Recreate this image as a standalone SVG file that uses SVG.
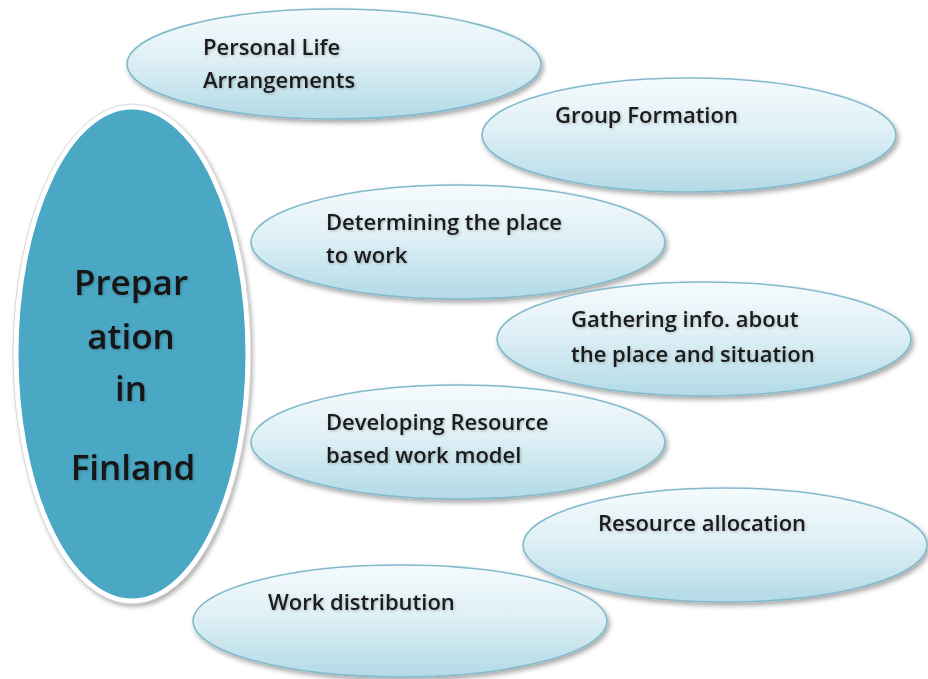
<svg xmlns="http://www.w3.org/2000/svg" width="928" height="679" viewBox="0 0 928 679">
  <defs>
    <linearGradient id="bubbleFill" x1="0" y1="0" x2="0" y2="1">
      <stop offset="0" stop-color="#f5fbfd"/>
      <stop offset="0.45" stop-color="#dff0f6"/>
      <stop offset="1" stop-color="#b2dae6"/>
    </linearGradient>
    <filter id="shade" x="-10%" y="-10%" width="125%" height="130%">
      <feGaussianBlur in="SourceAlpha" stdDeviation="2.5"/>
      <feOffset dx="2" dy="3" result="off"/>
      <feComponentTransfer><feFuncA type="linear" slope="0.35"/></feComponentTransfer>
      <feMerge><feMergeNode/><feMergeNode in="SourceGraphic"/></feMerge>
    </filter>
    <filter id="glow" x="-5%" y="-20%" width="110%" height="140%">
      <feGaussianBlur in="SourceAlpha" stdDeviation="1.6"/>
      <feComponentTransfer><feFuncA type="linear" slope="0.25"/></feComponentTransfer>
      <feOffset dx="1" dy="1"/>
      <feMerge><feMergeNode/><feMergeNode in="SourceGraphic"/></feMerge>
    </filter>
  </defs>
  <style>
    .bubble { fill: url(#bubbleFill); stroke: #82bacc; stroke-width: 1.6; filter: url(#shade); }
    .hub { fill: #4ba8c4; stroke: #ffffff; stroke-width: 5; filter: url(#shade); }
    .hubRim { fill: none; stroke: #d9d9d9; stroke-width: 1; }
    .lbl { font-family: "Open Sans", "Noto Sans", "Liberation Sans", sans-serif; font-weight: 600; font-size: 22px; fill: #1a1a1a; filter: url(#glow); }
    .hubLbl { font-family: "Open Sans", "Noto Sans", "Liberation Sans", sans-serif; font-weight: 600; font-size: 35px; fill: #141414; text-anchor: middle; filter: url(#glow); }
  </style>
  <rect width="928" height="679" fill="#ffffff"/>

  <g id="connectors"/>

  <g id="node-personal-life">
    <ellipse class="bubble" cx="334" cy="64" rx="207" ry="55"/>
    <text class="lbl" x="203" y="55">Personal Life</text>
    <text class="lbl" x="203" y="88">Arrangements</text>
  </g>

  <g id="node-group-formation">
    <ellipse class="bubble" cx="689" cy="135" rx="207" ry="57"/>
    <text class="lbl" x="555" y="123">Group Formation</text>
  </g>

  <g id="node-determining-place">
    <ellipse class="bubble" cx="458" cy="242" rx="207" ry="57"/>
    <text class="lbl" x="326" y="230">Determining the place</text>
    <text class="lbl" x="326" y="263">to work</text>
  </g>

  <g id="node-gathering-info">
    <ellipse class="bubble" cx="704" cy="339" rx="207" ry="57"/>
    <text class="lbl" x="571" y="327">Gathering info. about</text>
    <text class="lbl" x="571" y="362">the place and situation</text>
  </g>

  <g id="node-developing-model">
    <ellipse class="bubble" cx="458" cy="442" rx="207" ry="57"/>
    <text class="lbl" x="326" y="430">Developing Resource</text>
    <text class="lbl" x="326" y="463">based work model</text>
  </g>

  <g id="node-resource-allocation">
    <ellipse class="bubble" cx="725" cy="545" rx="202" ry="57"/>
    <text class="lbl" x="598" y="531">Resource allocation</text>
  </g>

  <g id="node-work-distribution">
    <ellipse class="bubble" cx="400" cy="621" rx="207" ry="56"/>
    <text class="lbl" x="268" y="610">Work distribution</text>
  </g>

  <g id="node-preparation">
    <ellipse class="hub" cx="132" cy="354" rx="116" ry="247"/>
    <ellipse class="hubRim" cx="132" cy="354" rx="119" ry="250"/>
    <text class="hubLbl" x="131" y="295">Prepar</text>
    <text class="hubLbl" x="131" y="349">ation</text>
    <text class="hubLbl" x="131" y="401">in</text>
    <text class="hubLbl" x="133" y="480">Finland</text>
  </g>
</svg>
